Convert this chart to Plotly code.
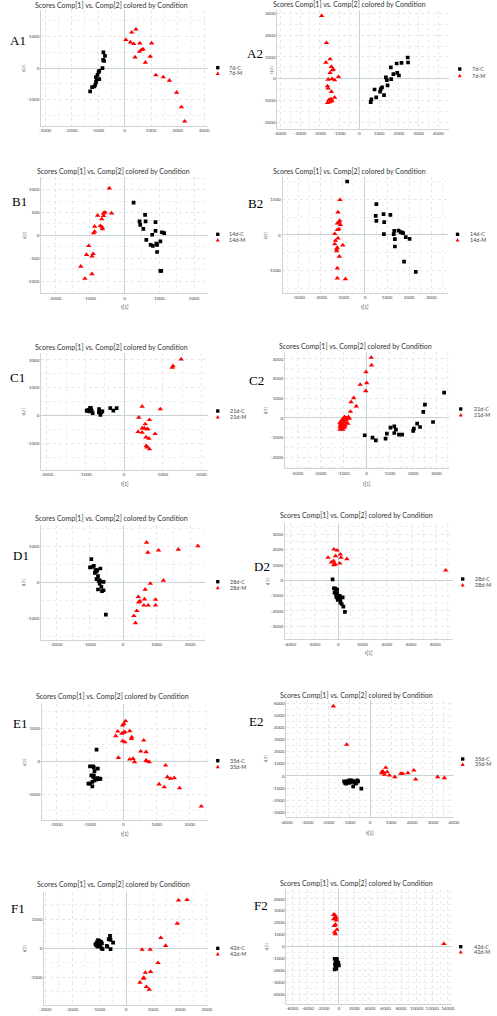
import math
import plotly.graph_objects as go

W, H = 497, 1016

# ---------------- data (t[1], t[2] scores) ----------------
a1_groups = ["7d-C", "7d-M"]
a1_c_t1 = [-800, -740, -810, -775, -835, -955, -980, -1020, -1080, -955, -1055, -1080, -1105, -1140, -1225, -1300]
a1_c_t2 = [500, 390, 265, 230, 0, -85, -125, -210, -285, -345, -370, -440, -525, -580, -600, -735]
a1_m_t1 = [50, 270, 430, 220, 345, 575, 1020, 700, 640, 565, 395, 970, 785, 1180, 1460, 1695, 1965, 2145, 2270]
a1_m_t2 = [895, 1135, 1230, 820, 770, 790, 790, 600, 580, 525, 345, 370, 180, -220, -285, -390, -770, -1230, -1685]

a2_groups = ["7d-C", "7d-M"]
a2_c_t1 = [2450, 2465, 2135, 1890, 1920, 2005, 1725, 1595, 1345, 1395, 1610, 1430, 1150, 1085, 1050, 1250, 855, 610, 575, 770]
a2_c_t2 = [975, 745, 730, 700, 275, 150, 215, 520, 60, -60, -15, -305, -395, -475, -595, -745, -855, -945, -1065, -490]
a2_m_t1 = [-1905, -1660, -1690, -1480, -1410, -1365, -1315, -1480, -1380, -1575, -1250, -1050, -1610, -1575, -1410, -1250, -1480, -1410, -1545, -1610, -1480, -1380]
a2_m_t2 = [2880, 1645, 745, 900, 550, 395, 425, 275, 0, -30, -60, 90, -335, -440, -595, -855, -945, -945, -975, -1100, -1065, -1020]

b1_groups = ["14d-C", "14d-M"]
b1_c_t1 = [260, 590, 430, 450, 605, 540, 890, 890, 1075, 1140, 795, 625, 750, 815, 915, 935, 1030, 935, 1030, 1055]
b1_c_t2 = [715, 450, 305, 230, 305, 145, 290, 100, 70, 50, 15, -95, -205, -225, -180, -205, -130, -360, -770, -770]
b1_m_t1 = [-440, -375, -560, -605, -775, -605, -655, -700, -645, -635, -860, -860, -890, -1030, -905, -935, -1095, -1260, -1140, -935]
b1_m_t2 = [1030, 485, 505, 485, 435, 430, 355, 210, 180, 140, 195, 85, 50, -225, -400, -455, -420, -675, -940, -840]

b2_groups = ["14d-C", "14d-M"]
b2_c_t1 = [-810, 515, 485, 515, 840, 1150, 870, 1325, 1300, 1520, 1620, 1695, 1725, 855, 1355, 1355, 1845, 2020, 1770, 2300]
b2_c_t2 = [1495, 860, 535, 395, 580, 560, 355, 110, 20, 120, 75, 65, 45, 20, -120, -325, -65, -110, -750, -1035]
b2_m_t1 = [-1135, -1225, -1150, -1165, -1255, -1120, -1180, -1255, -1370, -1225, -1340, -1370, -1255, -1285, -1285, -1005, -1165, -1255, -1255, -885]
b2_m_t2 = [980, 635, 400, 355, 325, 280, 160, 140, 30, -95, -160, -260, -355, -400, -450, -290, -605, -935, -1215, -1235]

c1_groups = ["21d-C", "21d-M"]
c1_c_t1 = [-950, -925, -885, -865, -900, -840, -815, -970, -650, -630, -655, -615, -590, -565, -360, -280, -195, -860]
c1_c_t2 = [170, 205, 265, 275, 145, 170, 85, 180, 230, 145, 110, 25, 120, 155, 265, 180, 265, 230]
c1_m_t1 = [1475, 1265, 1245, 465, 935, 380, 655, 545, 465, 520, 590, 615, 360, 465, 800, 565, 640, 575, 590, 655]
c1_m_t2 = [2025, 1785, 1725, 325, 230, -70, -155, -310, -455, -455, -490, -490, -585, -610, -660, -780, -825, -1090, -1140, -1210]

c2_groups = ["21d-C", "21d-M"]
c2_c_t1 = [3340, 2510, 2440, 2860, 2300, 2175, 2035, 2005, 1530, 1390, 1190, 1260, 1190, 1025, 870, 815, 395, 250, -85]
c2_c_t2 = [1290, 680, 305, -205, -460, -290, -540, -660, -845, -845, -425, -595, -765, -490, -795, -1050, -1135, -1000, -880]
c2_m_t1 = [195, 210, -30, 0, -40, -280, -560, -675, -450, -700, -870, -785, -745, -870, -955, -995, -1025, -1065, -1025, -1120,
           -1150, -1120, -1025, -955, -1120, -1150, -980, -925, -980, -815, -1065, -1150, -1025, -1050, -1080, -900]
c2_m_t2 = [3070, 2680, 2340, 1780, 1375, 1695, 1015, 815, 595, 320, 0, 50, -35, -120, 50, -85, -170, -255, -320, -320,
           -425, -490, -425, -460, -185, -255, -490, -375, 15, -290, -540, -595, -595, -85, -375, -235]

d1_groups = ["28d-C", "28d-M"]
d1_c_t1 = [-950, -990, -920, -875, -825, -795, -845, -680, -750, -795, -730, -680, -585, -700, -650, -750, -630, -585, -515, -775, -710]
d1_c_t2 = [650, 420, 435, 465, 345, 300, 270, 390, 175, 95, 45, 35, 20, -30, -120, -195, -240, -215, -895, 345, 65]
d1_m_t1 = [700, 740, 1060, 1650, 2235, 1205, 815, 660, 455, 505, 465, 640, 970, 620, 750, 970, 410, 320, 370]
d1_m_t2 = [1115, 835, 895, 920, 1015, 55, -30, -195, -400, -520, -550, -465, -475, -635, -635, -635, -790, -930, -1125]

d2_groups = ["28d-C", "28d-M"]
d2_c_t1 = [-485, -375, -270, -190, -105, -320, -190, -105, -55, -160, 0, 80, 160, 350, 160, 270, 405, 535, -55, -105, 105]
d2_c_t2 = [65, -520, -545, -585, -630, -805, -955, -1020, -1065, -1110, -1195, -1130, -1240, -1110, -1455, -1545, -1715, -2065, -1285, -850, -1020]
d2_m_t1 = [-375, -105, -860, -590, -405, -320, -270, -375, -240, 160, 215, 105, 700, 8860]
d2_m_t2 = [2020, 1955, 1480, 1175, 1260, 1065, 1045, 1000, 1585, 1695, 1480, 1110, 1390, 650]

e1_groups = ["35d-C", "35d-M"]
e1_c_t1 = [-800, -995, -900, -880, -760, -860, -955, -880, -900, -780, -760, -710, -685, -860, -925, -995, -1045, -925, -800, -730]
e1_c_t2 = [355, -150, -150, -190, -220, -295, -425, -425, -475, -505, -525, -525, -535, -575, -625, -675, -675, -760, -545, -535]
e1_m_t1 = [70, -20, 20, -165, 0, 50, -225, -40, 195, 255, 245, 615, -20, 50, 525, 685, -145, 195, 295, 340,
           685, 700, 780, 1270, 1325, 1415, 1530, 1690, 1075, 1230, 2340]
e1_m_t2 = [1220, 1090, 1140, 910, 870, 890, 770, 840, 920, 735, 685, 635, 615, 585, 305, 285, 110, 60, 80, -20,
           30, 10, -20, -120, -475, -525, -505, -810, -695, -780, -1365]

e2_groups = ["35d-C", "35d-M"]
e2_c_t1 = [-1245, -1200, -1135, -1090, -1010, -965, -900, -855, -810, -745, -655, -810, -575, -620, -420, -1150, -995, -700]
e2_c_t2 = [-440, -580, -495, -415, -580, -495, -360, -495, -415, -495, -580, -855, -440, -360, -1045, -635, -360, -635]
e2_m_t1 = [-1755, -1120, 590, 620, 745, 810, 545, 685, 920, 1180, 1460, 1555, 1805, 2085, 2175, 3220, 3545]
e2_m_t2 = [5760, 2590, 385, 330, 690, 330, 250, 110, 55, -85, 195, 195, 250, 470, -275, -85, -165]

f1_groups = ["42d-C", "42d-M"]
f1_c_t1 = [-1135, -1075, -1040, -990, -930, -955, -895, -1050, -1015, -1100, -1040, -910, -715, -695, -595, -595, -575, -645, -480, -575, -870]
f1_c_t2 = [135, 215, 270, 250, 215, 80, 160, 160, 100, 80, 45, -10, 80, 45, 420, 330, 280, 305, 190, -35, -35]
f1_m_t1 = [1945, 2260, 1900, 1290, 1470, 595, 895, 1185, 910, 715, 655, 655, 515, 755, 860]
f1_m_t2 = [1640, 1660, 845, 350, 80, -55, -55, -510, -815, -845, -1015, -1050, -1185, -1335, -1425]

f2_groups = ["42d-C", "42d-M"]
f2_c_t1 = [-545, -335, -250, -420, -335, -125, -250, 0, -420, -545, -335, -500, -85]
f2_c_t2 = [-995, -995, -1050, -1185, -1325, -1460, -1545, -1545, -1655, -1875, -1820, -1460, -1325]
f2_m_t1 = [-545, -420, -500, -670, -335, -420, -585, -250, -545, -460, 13500, -670, -335]
f2_m_t2 = [2675, 2540, 2400, 2315, 2205, 1850, 1765, 1435, 1215, 1075, 250, 2675, 2400]

chart_title = "Scores Comp[1] vs. Comp[2] colored by Condition"

# ---------------- panel layout (pixels) ----------------
panels = [
    dict(lab="A1", d=(a1_c_t1, a1_c_t2, a1_m_t1, a1_m_t2), g=a1_groups, box=(36, 207, 10, 126), xr=(-3150, 3150), yr=(-1830, 1840), xd=1000, yd=1000,
         title=(108.5, 4.7), labpos=(2, 40), yt=18.3, xt=None, leg=(217, 67.7, 73.3, 226)),
    dict(lab="A2", d=(a2_c_t1, a2_c_t2, a2_m_t1, a2_m_t2), g=a2_groups, box=(278, 454, 10, 129), xr=(-4150, 4540), yr=(-2300, 3150), xd=1000, yd=1000,
         title=(352, 4.3), labpos=(245, 53.3), yt=271.7, xt=None, leg=(465, 69, 75.7, 475)),
    dict(lab="B1", d=(b1_c_t1, b1_c_t2, b1_m_t1, b1_m_t2), g=b1_groups, box=(36, 207, 176.7, 293.3), xr=(-2400, 2400), yr=(-1260, 1280), xd=1000, yd=500,
         title=(110, 171), labpos=(4, 201.7), yt=18.3, xt=(121.5, 306.7), leg=(217, 234.3, 240, 226)),
    dict(lab="B2", d=(b2_c_t1, b2_c_t2, b2_m_t1, b2_m_t2), g=b2_groups, box=(283.3, 452.7, 176.7, 292.7), xr=(-3740, 3750), yr=(-1620, 1630), xd=1000, yd=1000,
         title=(352, 171), labpos=(246, 203.3), yt=265.7, xt=(368, 306.7), leg=(462.7, 234.3, 240, 473)),
    dict(lab="C1", d=(c1_c_t1, c1_c_t2, c1_m_t1, c1_m_t2), g=c1_groups, box=(36, 207, 353.3, 470), xr=(-2150, 2170), yr=(-1960, 2240), xd=1000, yd=1000,
         title=(108.5, 346.7), labpos=(2, 377.3), yt=18.3, xt=(121.5, 484), leg=(217, 411, 417, 228)),
    dict(lab="C2", d=(c2_c_t1, c2_c_t2, c2_m_t1, c2_m_t2), g=c2_groups, box=(285.7, 454, 351.7, 468.3), xr=(-3530, 3550), yr=(-2560, 3370), xd=1000, yd=1000,
         title=(358, 346), labpos=(247, 380.7), yt=266.7, xt=(370, 484), leg=(466, 409, 415, 478)),
    dict(lab="D1", d=(d1_c_t1, d1_c_t2, d1_m_t1, d1_m_t2), g=d1_groups, box=(36, 204, 525, 640), xr=(-2450, 2450), yr=(-1600, 1600), xd=1000, yd=1000,
         title=(108, 518.3), labpos=(5, 555), yt=18.3, xt=None, leg=(217, 581.7, 587.7, 228)),
    dict(lab="D2", d=(d2_c_t1, d2_c_t2, d2_m_t1, d2_m_t2), g=d2_groups, box=(285.7, 458.3, 523.3, 639.3), xr=(-4430, 9480), yr=(-3850, 3720), xd=2000, yd=1000,
         title=(359, 515), labpos=(251.7, 566), yt=267.3, xt=(372, 652.7), leg=(468, 579, 585, 479)),
    dict(lab="E1", d=(e1_c_t1, e1_c_t2, e1_m_t1, e1_m_t2), g=e1_groups, box=(36.7, 207.3, 704, 820), xr=(-2440, 2550), yr=(-1780, 1740), xd=1000, yd=1000,
         title=(109, 696), labpos=(5, 723.3), yt=18.3, xt=(122, 834.3), leg=(217, 760.7, 766.7, 228)),
    dict(lab="E2", d=(e2_c_t1, e2_c_t2, e2_m_t1, e2_m_t2), g=e2_groups, box=(287.3, 459, 700, 817.3), xr=(-4000, 4000), yr=(-3410, 6270), xd=1000, yd=1000,
         title=(359.5, 695), labpos=(247, 721.7), yt=266, xt=(373, 832.7), leg=(468, 759, 764.3, 479)),
    dict(lab="F1", d=(f1_c_t1, f1_c_t2, f1_m_t1, f1_m_t2), g=f1_groups, box=(39, 207.3, 891.7, 1005), xr=(-3040, 3050), yr=(-1960, 1940), xd=1000, yd=1000,
         title=(109.7, 884.3), labpos=(2.7, 908.3), yt=18.3, xt=None, leg=(217, 948.3, 954, 228)),
    dict(lab="F2", d=(f2_c_t1, f2_c_t2, f2_m_t1, f2_m_t2), g=f2_groups, box=(287.3, 456.7, 889.3, 1004), xr=(-6750, 14500), yr=(-4770, 4800), xd=2000, yd=1000,
         title=(358.7, 883.3), labpos=(251.7, 905), yt=267.3, xt=None, leg=(466, 946.7, 952, 478)),
]


def px(x):
    return x / W


def py(y):
    return 1 - y / H


def ticks(r, d):
    start = math.ceil(r[0] / d) * d
    vals = []
    v = start
    while v <= r[1]:
        vals.append(v)
        v += d
    return vals, [str(int(t)) for t in vals]


fig = go.Figure()
layout = dict(
    width=W, height=H, margin=dict(l=0, r=0, t=0, b=0),
    paper_bgcolor="white", plot_bgcolor="white", showlegend=False,
    font=dict(family="Lato, Open Sans, sans-serif", color="#444"),
)
annotations = []
shapes = []

GRID = "#e3e3e3"
ZERO = "#c5d3d3"
AXIS = "#c8c8c8"
TICKFONT = dict(size=4.6, color="#444", family="Lato, sans-serif")

for i, p in enumerate(panels, start=1):
    xa = "xaxis" if i == 1 else f"xaxis{i}"
    ya = "yaxis" if i == 1 else f"yaxis{i}"
    xr_ = "x" if i == 1 else f"x{i}"
    yr_ = "y" if i == 1 else f"y{i}"
    x0, x1, y0, y1 = p["box"]
    xv, xt = ticks(p["xr"], p["xd"])
    yv, yt = ticks(p["yr"], p["yd"])
    layout[xa] = dict(
        domain=[px(x0), px(x1)], range=list(p["xr"]), anchor=yr_,
        tickvals=xv, ticktext=xt, tickfont=TICKFONT, ticks="", tickangle=0,
        showgrid=True, gridcolor=GRID, griddash="dot", gridwidth=0.6,
        minor=dict(showgrid=True, gridcolor=GRID, griddash="dot", gridwidth=0.6, dtick=p["xd"] / 2),
        zeroline=True, zerolinecolor=ZERO, zerolinewidth=1,
        showline=True, linecolor=AXIS, linewidth=0.8, mirror=False, fixedrange=True,
    )
    layout[ya] = dict(
        domain=[py(y1), py(y0)], range=list(p["yr"]), anchor=xr_,
        tickvals=yv, ticktext=yt, tickfont=TICKFONT, ticks="", tickangle=0,
        showgrid=True, gridcolor=GRID, griddash="dot", gridwidth=0.6,
        minor=dict(showgrid=True, gridcolor=GRID, griddash="dot", gridwidth=0.6, dtick=p["yd"] / 2),
        zeroline=True, zerolinecolor=ZERO, zerolinewidth=1,
        showline=True, linecolor=AXIS, linewidth=0.8, mirror=False, fixedrange=True,
    )
    c_x, c_y, m_x, m_y = p["d"]
    fig.add_trace(go.Scatter(x=c_x, y=c_y, mode="markers", xaxis=xr_, yaxis=yr_,
                             marker=dict(symbol="square", size=3.7, color="black", line=dict(width=0)),
                             name=p["g"][0], hoverinfo="skip"))
    fig.add_trace(go.Scatter(x=m_x, y=m_y, mode="markers", xaxis=xr_, yaxis=yr_,
                             marker=dict(symbol="triangle-up", size=4.8, color="#ff0000", line=dict(width=0)),
                             name=p["g"][1], hoverinfo="skip"))

    # chart title
    tx, ty = p["title"]
    annotations.append(dict(text=chart_title, x=px(tx), y=py(ty), xref="paper", yref="paper",
                            showarrow=False, xanchor="center", yanchor="middle",
                            font=dict(size=7.0, color="#333", family="Lato, sans-serif")))
    # panel label
    lx, ly = p["labpos"]
    annotations.append(dict(text=p["lab"], x=px(lx), y=py(ly), xref="paper", yref="paper",
                            showarrow=False, xanchor="left", yanchor="middle",
                            font=dict(size=13, color="black", family="Liberation Serif, serif")))
    # y axis title
    annotations.append(dict(text="t[2]", x=px(p["yt"]), y=py((y0 + y1) / 2), xref="paper", yref="paper",
                            showarrow=False, xanchor="center", yanchor="middle", textangle=-90,
                            font=dict(size=5, color="#555", family="Liberation Serif, serif")))
    # x axis title
    if p["xt"]:
        annotations.append(dict(text="t[1]", x=px(p["xt"][0]), y=py(p["xt"][1]), xref="paper", yref="paper",
                                showarrow=False, xanchor="center", yanchor="middle",
                                font=dict(size=4.8, color="#555", family="Lato, sans-serif")))
    # legend
    mx, myc, mym, ltx = p["leg"]
    s = 1.7
    shapes.append(dict(type="rect", xref="paper", yref="paper",
                       x0=px(mx - s), x1=px(mx + s), y0=py(myc + s), y1=py(myc - s),
                       fillcolor="black", line=dict(width=0)))
    shapes.append(dict(type="path", xref="paper", yref="paper",
                       path=f"M {px(mx - 2.0)} {py(mym + 1.6)} L {px(mx + 2.0)} {py(mym + 1.6)} L {px(mx)} {py(mym - 2.0)} Z",
                       fillcolor="#ff0000", line=dict(width=0)))
    for txt, yy in zip(p["g"], (myc, mym)):
        annotations.append(dict(text=txt, x=px(ltx), y=py(yy), xref="paper", yref="paper",
                                showarrow=False, xanchor="left", yanchor="middle",
                                font=dict(size=5.4, color="#444", family="Lato, sans-serif")))

layout["annotations"] = annotations
layout["shapes"] = shapes
fig.update_layout(**layout)
fig.write_html(
    "out.html",
    config={"displayModeBar": False, "staticPlot": True},
    post_script="document.body.style.margin='0px';document.body.style.overflow='hidden';",
)
